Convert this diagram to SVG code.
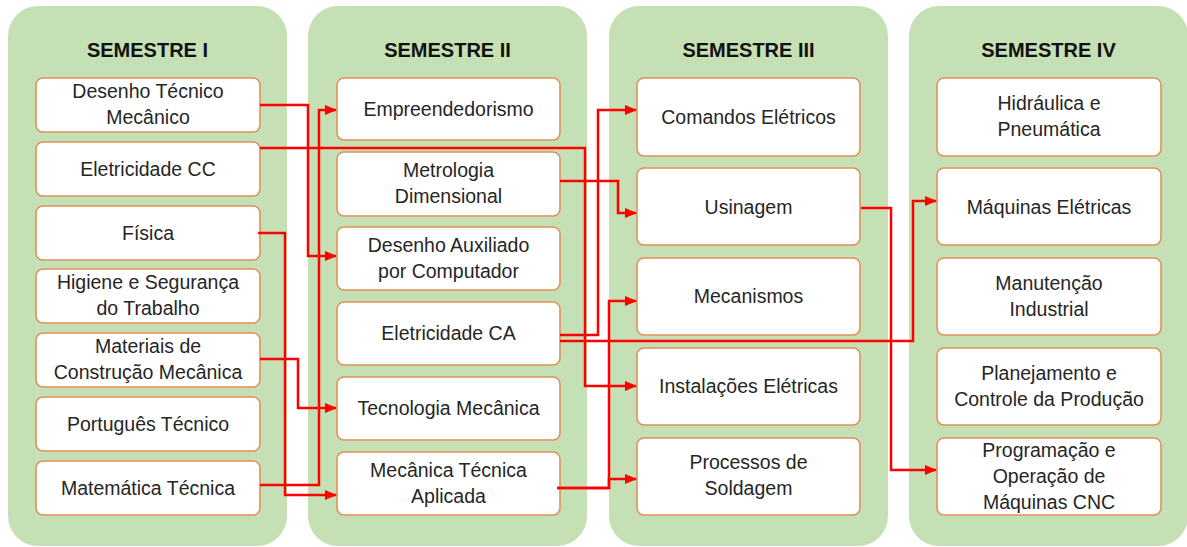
<svg xmlns="http://www.w3.org/2000/svg" width="1187" height="547" viewBox="0 0 1187 547">
<defs>
<style>
.panel{fill:#c5e0b4}
.box{fill:#ffffff;stroke:#e0915a;stroke-width:1.6}
.title{font-family:"Liberation Sans",Arial,sans-serif;font-weight:bold;font-size:20px;fill:#111;text-anchor:middle}
.t{font-family:"Liberation Sans",Arial,sans-serif;font-size:19.5px;fill:#262626;text-anchor:middle}
.c{fill:none;stroke:#ff0000;stroke-width:2.5;marker-end:url(#ah)}
</style>
<marker id="ah" markerUnits="userSpaceOnUse" markerWidth="12" markerHeight="10" refX="11" refY="5" orient="auto">
<path d="M0,0 L12,5 L0,10 Z" fill="#ff0000"/>
</marker>
</defs>
<rect width="1187" height="547" fill="#ffffff"/>
<g id="panels">
<rect class="panel" x="8" y="6" width="279" height="540" rx="30"/>
<rect class="panel" x="308" y="6" width="279" height="540" rx="30"/>
<rect class="panel" x="609" y="6" width="279" height="540" rx="30"/>
<rect class="panel" x="909" y="6" width="279" height="540" rx="30"/>
<text class="title" x="147.5" y="57">SEMESTRE I</text>
<text class="title" x="447.5" y="57">SEMESTRE II</text>
<text class="title" x="748.5" y="57">SEMESTRE III</text>
<text class="title" x="1048.5" y="57">SEMESTRE IV</text>
</g>
<g id="s1-desenho"><rect class="box" x="36" y="78" width="224" height="54" rx="7"/><text class="t" x="148" y="98">Desenho Técnico</text><text class="t" x="148" y="124">Mecânico</text></g>
<g id="s1-elcc"><rect class="box" x="36" y="142" width="224" height="54" rx="7"/><text class="t" x="148" y="176">Eletricidade CC</text></g>
<g id="s1-fisica"><rect class="box" x="36" y="206" width="224" height="54" rx="7"/><text class="t" x="148" y="240">Física</text></g>
<g id="s1-higiene"><rect class="box" x="36" y="269" width="224" height="54" rx="7"/><text class="t" x="148" y="289">Higiene e Segurança</text><text class="t" x="148" y="315">do Trabalho</text></g>
<g id="s1-materiais"><rect class="box" x="36" y="333" width="224" height="54" rx="7"/><text class="t" x="148" y="353">Materiais de</text><text class="t" x="148" y="379">Construção Mecânica</text></g>
<g id="s1-portugues"><rect class="box" x="36" y="397" width="224" height="54" rx="7"/><text class="t" x="148" y="431">Português Técnico</text></g>
<g id="s1-matematica"><rect class="box" x="36" y="461" width="224" height="54" rx="7"/><text class="t" x="148" y="495">Matemática Técnica</text></g>

<g id="s2-empreend"><rect class="box" x="337" y="78" width="223" height="62" rx="7"/><text class="t" x="448.5" y="116">Empreendedorismo</text></g>
<g id="s2-metrologia"><rect class="box" x="337" y="152" width="223" height="64" rx="7"/><text class="t" x="448.5" y="177">Metrologia</text><text class="t" x="448.5" y="203">Dimensional</text></g>
<g id="s2-desaux"><rect class="box" x="337" y="227" width="223" height="63" rx="7"/><text class="t" x="448.5" y="252">Desenho Auxiliado</text><text class="t" x="448.5" y="278">por Computador</text></g>
<g id="s2-elca"><rect class="box" x="337" y="302" width="223" height="63" rx="7"/><text class="t" x="448.5" y="340">Eletricidade CA</text></g>
<g id="s2-tecmec"><rect class="box" x="337" y="377" width="223" height="63" rx="7"/><text class="t" x="448.5" y="415">Tecnologia Mecânica</text></g>
<g id="s2-mecapl"><rect class="box" x="337" y="452" width="223" height="63" rx="7"/><text class="t" x="448.5" y="477">Mecânica Técnica</text><text class="t" x="448.5" y="503">Aplicada</text></g>

<g id="s3-comandos"><rect class="box" x="637" y="78" width="223" height="78" rx="7"/><text class="t" x="748.5" y="124">Comandos Elétricos</text></g>
<g id="s3-usinagem"><rect class="box" x="637" y="168" width="223" height="77" rx="7"/><text class="t" x="748.5" y="214">Usinagem</text></g>
<g id="s3-mecanismos"><rect class="box" x="637" y="258" width="223" height="77" rx="7"/><text class="t" x="748.5" y="303">Mecanismos</text></g>
<g id="s3-instal"><rect class="box" x="637" y="348" width="223" height="77" rx="7"/><text class="t" x="748.5" y="393">Instalações Elétricas</text></g>
<g id="s3-solda"><rect class="box" x="637" y="438" width="223" height="77" rx="7"/><text class="t" x="748.5" y="469">Processos de</text><text class="t" x="748.5" y="495">Soldagem</text></g>

<g id="s4-hidraulica"><rect class="box" x="937" y="78" width="224" height="78" rx="7"/><text class="t" x="1049" y="110">Hidráulica e</text><text class="t" x="1049" y="136">Pneumática</text></g>
<g id="s4-maqel"><rect class="box" x="937" y="168" width="224" height="77" rx="7"/><text class="t" x="1049" y="214">Máquinas Elétricas</text></g>
<g id="s4-manut"><rect class="box" x="937" y="258" width="224" height="77" rx="7"/><text class="t" x="1049" y="290">Manutenção</text><text class="t" x="1049" y="316">Industrial</text></g>
<g id="s4-planej"><rect class="box" x="937" y="348" width="224" height="77" rx="7"/><text class="t" x="1049" y="380">Planejamento e</text><text class="t" x="1049" y="406">Controle da Produção</text></g>
<g id="s4-cnc"><rect class="box" x="937" y="438" width="224" height="77" rx="7"/><text class="t" x="1049" y="457">Programação e</text><text class="t" x="1049" y="483">Operação de</text><text class="t" x="1049" y="509">Máquinas CNC</text></g>

<g id="connectors">
<path class="c" d="M260,105 H308 V256 H336"/>
<path class="c" d="M260,485 H319 V110 H336"/>
<path class="c" d="M260,148 H585 V386 H636"/>
<path class="c" d="M258,233 H285 V495 H336"/>
<path class="c" d="M260,359 H298 V408 H336"/>
<path class="c" d="M560,335 H598 V110 H636"/>
<path class="c" d="M560,181 H618 V213 H636"/>
<path class="c" d="M560,341 H913 V201 H936"/>
<path class="c" d="M557,488 H609 V301 H636"/>
<path class="c" d="M557,488 H609 V479 H636"/>
<path class="c" d="M861,208 H891 V470 H936"/>
</g>
</svg>
